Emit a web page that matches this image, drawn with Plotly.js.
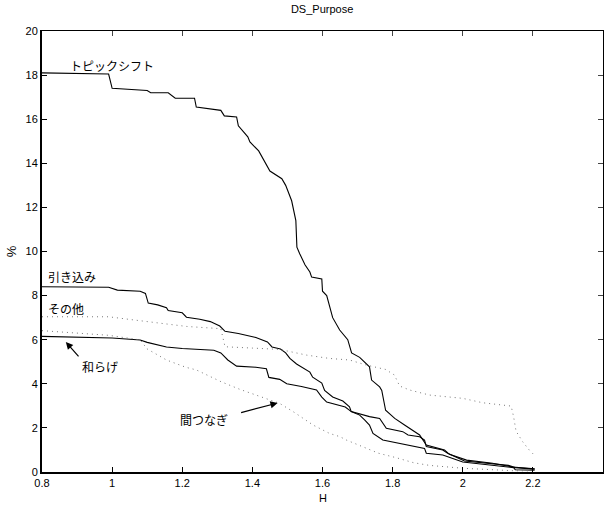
<!DOCTYPE html>
<html>
<head>
<meta charset="utf-8">
<script src="https://cdn.plot.ly/plotly-3.0.1.min.js"></script>
<style>html,body{margin:0;padding:0;background:#fff;}#chart{width:610px;height:506px;}</style>
</head>
<body>
<div id="chart"></div>
<script>
// トピックシフト
const topicX = [0.8, 0.99, 1.0, 1.10, 1.11, 1.16, 1.18, 1.235, 1.24, 1.31, 1.32, 1.355, 1.36, 1.387, 1.393, 1.418, 1.45, 1.484, 1.495, 1.512, 1.524, 1.527, 1.535, 1.55, 1.564, 1.569, 1.598, 1.60, 1.612, 1.615, 1.629, 1.649, 1.672, 1.683, 1.706, 1.734, 1.74, 1.763, 1.769, 1.78, 1.806, 1.834, 1.877, 1.896, 1.948, 1.962, 2.011, 2.085, 2.142, 2.205];
const topicY = [18.1, 18.05, 17.4, 17.3, 17.2, 17.2, 16.95, 16.95, 16.55, 16.4, 16.15, 16.1, 15.7, 15.2, 14.97, 14.56, 13.65, 13.3, 13.0, 12.3, 11.4, 10.2, 9.9, 9.4, 9.07, 8.84, 8.75, 8.2, 8.0, 7.8, 7.0, 6.44, 6.0, 5.4, 5.2, 4.77, 4.17, 3.86, 3.7, 2.8, 2.43, 2.13, 1.68, 1.22, 1.0, 0.8, 0.54, 0.4, 0.23, 0.14];
// 引き込み
const hikiX = [0.8, 0.99, 1.015, 1.08, 1.095, 1.103, 1.13, 1.155, 1.16, 1.20, 1.212, 1.25, 1.28, 1.307, 1.322, 1.36, 1.41, 1.443, 1.456, 1.48, 1.495, 1.507, 1.526, 1.541, 1.564, 1.572, 1.598, 1.606, 1.629, 1.658, 1.677, 1.682, 1.706, 1.72, 1.734, 1.744, 1.772, 1.891, 1.896, 1.943, 2.0, 2.145, 2.15, 2.205];
const hikiY = [8.4, 8.38, 8.25, 8.2, 8.1, 7.66, 7.58, 7.45, 7.32, 7.22, 7.02, 6.93, 6.82, 6.62, 6.38, 6.28, 6.1, 5.9, 5.67, 5.58, 5.4, 5.15, 4.9, 4.76, 4.53, 4.3, 4.03, 3.7, 3.4, 3.22, 2.96, 2.74, 2.58, 2.36, 2.13, 1.75, 1.45, 1.07, 0.85, 0.77, 0.45, 0.2, 0.1, 0.08];
// 和らげ
const yawaX = [0.8, 1.0, 1.08, 1.10, 1.155, 1.20, 1.29, 1.31, 1.33, 1.355, 1.41, 1.44, 1.447, 1.478, 1.498, 1.54, 1.583, 1.598, 1.612, 1.64, 1.665, 1.682, 1.734, 1.763, 1.782, 1.829, 1.844, 1.877, 1.891, 1.896, 1.943, 1.957, 2.005, 2.13, 2.15, 2.205];
const yawaY = [6.15, 6.08, 5.99, 5.88, 5.67, 5.6, 5.52, 5.4, 5.08, 4.8, 4.75, 4.68, 4.29, 4.2, 4.0, 3.88, 3.72, 3.4, 3.17, 3.04, 2.95, 2.74, 2.51, 2.43, 1.98, 1.83, 1.68, 1.60, 1.45, 1.15, 1.0, 0.85, 0.5, 0.3, 0.2, 0.13];
// その他
const sonotaX = [0.8, 0.99, 1.06, 1.136, 1.213, 1.31, 1.322, 1.40, 1.478, 1.555, 1.62, 1.677, 1.725, 1.78, 1.805, 1.82, 1.848, 1.905, 2.0, 2.057, 2.105, 2.138, 2.145, 2.152, 2.171, 2.19, 2.205];
const sonotaY = [7.04, 7.04, 6.9, 6.75, 6.6, 6.5, 5.68, 5.62, 5.56, 5.3, 5.15, 5.08, 4.85, 4.65, 4.4, 3.9, 3.72, 3.49, 3.34, 3.14, 3.04, 2.99, 2.51, 1.85, 1.37, 0.99, 0.75];
// 間つなぎ
const maX = [0.8, 0.99, 1.08, 1.10, 1.155, 1.21, 1.24, 1.31, 1.364, 1.44, 1.478, 1.52, 1.554, 1.573, 1.62, 1.65, 1.668, 1.715, 1.76, 1.81, 1.86, 1.905, 2.0, 2.14, 2.205];
const maY = [6.41, 6.2, 5.99, 5.58, 5.08, 4.75, 4.63, 4.1, 3.75, 3.34, 3.11, 2.7, 2.36, 2.13, 1.75, 1.6, 1.45, 1.15, 0.85, 0.65, 0.42, 0.3, 0.17, 0.06, 0.05];

const xTicks = [0.8, 1, 1.2, 1.4, 1.6, 1.8, 2, 2.2, 2.4];
const yTicks = [0, 2, 4, 6, 8, 10, 12, 14, 16, 18, 20];

const solid = {color: '#000', width: 1.1};
const dotted = {color: '#777', width: 1, dash: '1px,4px'};
const traces = [
  {x: topicX, y: topicY, mode: 'lines', line: solid, name: 'トピックシフト'},
  {x: hikiX, y: hikiY, mode: 'lines', line: solid, name: '引き込み'},
  {x: yawaX, y: yawaY, mode: 'lines', line: solid, name: '和らげ'},
  {x: sonotaX, y: sonotaY, mode: 'lines', line: dotted, name: 'その他'},
  {x: maX, y: maY, mode: 'lines', line: dotted, name: '間つなぎ'},
  {x: [], y: [], xaxis: 'x2', yaxis: 'y2', mode: 'lines', showlegend: false}
];

const jp = {family: '"Noto Sans CJK JP", sans-serif', size: 12, color: '#000'};
const layout = {
  width: 610, height: 506,
  margin: {l: 42, r: 7, t: 31, b: 34},
  paper_bgcolor: '#fff', plot_bgcolor: '#fff',
  showlegend: false,
  font: {family: '"Liberation Sans", Arial, sans-serif', size: 11, color: '#000'},
  title: {text: 'DS_Purpose', x: 0.528, xanchor: 'center', y: 0.982, yanchor: 'middle', font: {size: 11}},
  xaxis: {range: [0.8, 2.4], tickvals: xTicks, ticktext: xTicks.map(String), ticks: 'inside', ticklen: 5, tickcolor: '#000',
          showline: true, linewidth: 2, linecolor: '#000', showgrid: false, zeroline: false,
          title: {text: ''}, automargin: false},
  yaxis: {range: [0, 20], tickvals: yTicks, ticks: 'inside', ticklen: 5, tickcolor: '#000',
          showline: true, linewidth: 2, linecolor: '#000', showgrid: false, zeroline: false,
          title: {text: '%', standoff: 6}, automargin: false},
  xaxis2: {overlaying: 'x', side: 'top', matches: 'x', range: [0.8, 2.4], tickvals: xTicks, ticks: 'inside', ticklen: 5,
           showticklabels: false, showline: true, linewidth: 1, linecolor: '#000', showgrid: false, zeroline: false},
  yaxis2: {overlaying: 'y', side: 'right', range: [0, 20], tickvals: yTicks, ticks: 'inside', ticklen: 5,
           showticklabels: false, showline: true, linewidth: 1, linecolor: '#000', showgrid: false, zeroline: false},
  annotations: [
    {text: 'H', xref: 'paper', yref: 'paper', x: 0.5, y: 0, yshift: -26, xanchor: 'center', yanchor: 'middle', showarrow: false, font: {size: 11}},
    {text: 'トピックシフト', x: 0.873, y: 18.45, xanchor: 'left', yanchor: 'middle', showarrow: false, font: jp},
    {text: '引き込み', x: 0.81, y: 8.85, xanchor: 'left', yanchor: 'middle', showarrow: false, font: jp},
    {text: 'その他', x: 0.81, y: 7.4, xanchor: 'left', yanchor: 'middle', showarrow: false, font: jp},
    {text: '和らげ', x: 0.908, y: 4.8, xanchor: 'left', yanchor: 'middle', showarrow: false, font: jp},
    {text: '間つなぎ', x: 1.187, y: 2.4, xanchor: 'left', yanchor: 'middle', showarrow: false, font: jp},
    {text: '', x: 0.868, y: 5.9, ax: 14, ay: 16, showarrow: true, arrowhead: 2, arrowsize: 1.2, arrowwidth: 1.2, arrowcolor: '#000'},
    {text: '', x: 1.472, y: 3.13, ax: -38, ay: 10, showarrow: true, arrowhead: 2, arrowsize: 1.2, arrowwidth: 1.2, arrowcolor: '#000'}
  ]
};
Plotly.newPlot('chart', traces, layout, {displayModeBar: false, staticPlot: true});
</script>
</body>
</html>
